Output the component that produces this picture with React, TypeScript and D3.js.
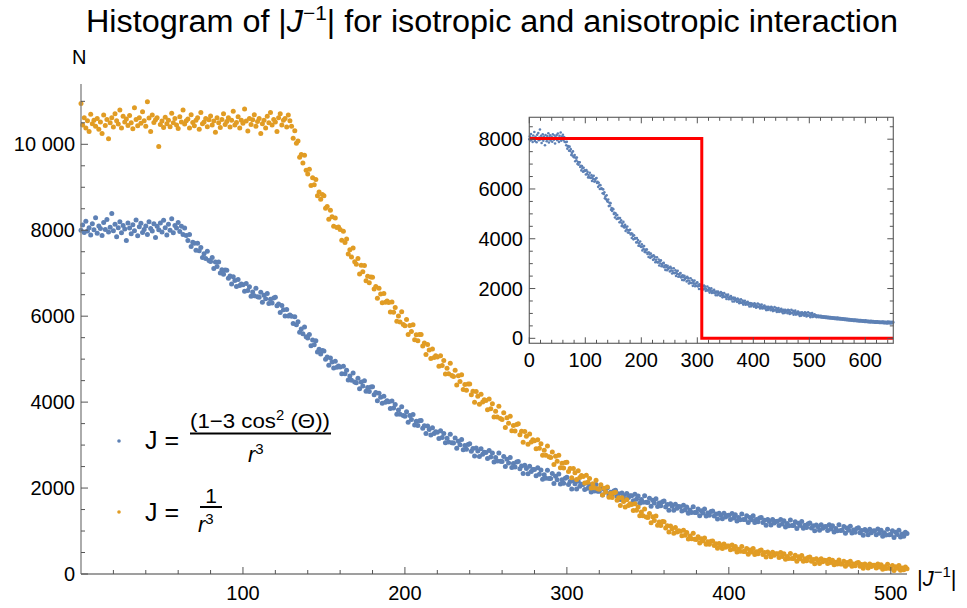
import React from "react";
import * as d3 from "d3";

// Histogram counts for |J^-1| = 0,1,2,...,510 (anisotropic, blue)
const blueY = [
  8000, 8120, 7950, 8210, 7980, 8060, 7890, 8150, 8010, 8290,
  7930, 8100, 8040, 7880, 8180, 8020, 8250, 7960, 8070, 8390,
  7990, 8140, 7850, 8060, 8200, 7940, 8110, 8030, 7760, 8170,
  8050, 7920, 8130, 7990, 8240, 7870, 8080, 8160, 7950, 8020,
  8100, 7900, 8200, 8040, 7980, 8150, 7830, 8090, 8010, 8170,
  7960, 8230, 8060, 7890, 8140, 8000, 8270, 7940, 8110, 8050,
  8180, 7970, 8090, 7900, 8050, 7880, 7760, 7900, 7620, 7720,
  7700, 7535, 7700, 7525, 7600, 7365, 7450, 7345, 7510, 7295,
  7270, 7366, 7112, 7258, 7154, 7260, 7006, 7082, 6978, 7074,
  7070, 6882, 6934, 6746, 6918, 6830, 6692, 6854, 6716, 6748,
  6730, 6579, 6758, 6597, 6686, 6465, 6564, 6473, 6652, 6451,
  6440, 6556, 6322, 6488, 6404, 6530, 6296, 6392, 6308, 6424,
  6440, 6242, 6284, 6086, 6248, 6150, 6002, 6154, 6006, 6028,
  6000, 5827, 5984, 5801, 5868, 5625, 5702, 5589, 5746, 5523,
  5490, 5576, 5312, 5448, 5334, 5430, 5166, 5232, 5118, 5204,
  5190, 4999, 5048, 4857, 5026, 4935, 4794, 4953, 4812, 4841,
  4820, 4661, 4832, 4663, 4744, 4515, 4606, 4507, 4678, 4469,
  4450, 4557, 4314, 4471, 4378, 4495, 4252, 4339, 4246, 4353,
  4360, 4171, 4222, 4033, 4204, 4115, 3976, 4137, 3998, 4029,
  4010, 3854, 4028, 3862, 3946, 3720, 3814, 3718, 3892, 3686,
  3670, 3776, 3532, 3688, 3594, 3710, 3466, 3552, 3458, 3564,
  3570, 3389, 3448, 3267, 3446, 3365, 3234, 3403, 3272, 3311,
  3300, 3153, 3336, 3179, 3272, 3055, 3158, 3071, 3254, 3057,
  3050, 3164, 2928, 3092, 3006, 3130, 2894, 2988, 2902, 3016,
  3030, 2856, 2922, 2748, 2934, 2860, 2736, 2912, 2788, 2834,
  2830, 2687, 2874, 2721, 2818, 2605, 2712, 2629, 2816, 2623,
  2620, 2736, 2502, 2668, 2584, 2710, 2476, 2572, 2488, 2604,
  2620, 2447, 2514, 2341, 2528, 2455, 2332, 2509, 2386, 2433,
  2430, 2287, 2474, 2321, 2418, 2205, 2312, 2229, 2416, 2223,
  2220, 2339, 2108, 2277, 2196, 2325, 2094, 2193, 2112, 2231,
  2250, 2080, 2150, 1980, 2170, 2100, 1980, 2160, 2040, 2090,
  2080, 1967, 2118, 1997, 2076, 1907, 1994, 1929, 2080, 1927,
  1926, 2021, 1836, 1971, 1906, 2009, 1824, 1903, 1838, 1933,
  1948, 1812, 1868, 1732, 1884, 1828, 1732, 1876, 1780, 1820,
  1820, 1707, 1858, 1737, 1816, 1647, 1734, 1669, 1820, 1667,
  1666, 1762, 1578, 1714, 1650, 1754, 1570, 1650, 1586, 1682,
  1698, 1562, 1618, 1482, 1634, 1578, 1482, 1626, 1530, 1570,
  1565, 1466, 1598, 1492, 1561, 1413, 1489, 1432, 1564, 1430,
  1429, 1514, 1354, 1474, 1419, 1511, 1351, 1422, 1367, 1452,
  1467, 1349, 1399, 1281, 1415, 1367, 1284, 1411, 1328, 1364,
  1365, 1270, 1406, 1304, 1377, 1233, 1313, 1260, 1396, 1266,
  1269, 1355, 1196, 1317, 1263, 1356, 1197, 1269, 1215, 1301,
  1317, 1200, 1251, 1134, 1269, 1222, 1140, 1268, 1186, 1223,
  1225, 1130, 1266, 1164, 1237, 1093, 1173, 1120, 1256, 1126,
  1129, 1216, 1058, 1180, 1127, 1221, 1063, 1136, 1083, 1170,
  1187, 1071, 1123, 1007, 1143, 1097, 1016, 1145, 1064, 1102,
  1105, 1011, 1148, 1047, 1121, 978, 1059, 1007, 1144, 1015,
  1019, 1106, 948, 1070, 1017, 1111, 953, 1026, 973, 1060,
  1077, 962, 1015, 900, 1037, 992, 912, 1042, 962, 1001,
  1005, 911, 1048, 947, 1021, 878, 959, 907, 1044, 915,
  919, 1007, 850, 973, 921, 1016, 859, 933, 881, 969,
  945,
];

// Histogram counts for |J^-1| = 0,1,2,...,510 (isotropic, orange)
const orangeY = [
  10950, 10450, 10620, 10380, 10550, 10300, 10700, 10480, 10560, 10420,
  10600, 10350, 10520, 10250, 10680, 10440, 10580, 10130, 10500, 10620,
  10400, 10710, 10550, 10470, 10800, 10380, 10650, 10520, 10590, 10440,
  10670, 10500, 10360, 10850, 10580, 10430, 10620, 10490, 10760, 10550,
  10420, 10990, 10610, 10300, 10680, 10510, 10570, 10620, 9950, 10460,
  10540, 10390, 10630, 10480, 10560, 10410, 10720, 10500, 10600, 10450,
  10370, 10640, 10520, 10800, 10470, 10550, 10590, 10380, 10690, 10510,
  10430, 10560, 10620, 10350, 10740, 10480, 10520, 10600, 10410, 10570,
  10660, 10450, 10540, 10280, 10620, 10500, 10390, 10580, 10710, 10460,
  10530, 10620, 10400, 10560, 10770, 10450, 10510, 10640, 10380, 10560,
  10490, 10820, 10540, 10310, 10600, 10460, 10570, 10690, 10420, 10530,
  10600, 10250, 10480, 10560, 10380, 10650, 10500, 10740, 10450, 10580,
  10520, 10300, 10620, 10710, 10450, 10560, 10600, 10400, 10680, 10550,
  10420, 10138, 10318, 10022, 10076, 9696, 9764, 9566, 9746, 9394,
  9308, 9420, 9042, 9224, 9056, 9182, 8804, 8888, 8720, 8832,
  8804, 8510, 8552, 8258, 8468, 8314, 8090, 8286, 8062, 8076,
  8020, 7768, 7978, 7712, 7796, 7446, 7544, 7376, 7586, 7264,
  7208, 7340, 6982, 7184, 7036, 7182, 6824, 6928, 6780, 6912,
  6904, 6630, 6692, 6418, 6648, 6514, 6310, 6526, 6322, 6356,
  6320, 6095, 6332, 6093, 6204, 5881, 6006, 5865, 6102, 5807,
  5778, 5920, 5572, 5784, 5646, 5802, 5454, 5568, 5430, 5572,
  5574, 5306, 5374, 5106, 5342, 5214, 5016, 5238, 5040, 5080,
  5050, 4834, 5080, 4850, 4970, 4656, 4790, 4658, 4904, 4618,
  4598, 4743, 4398, 4613, 4478, 4637, 4292, 4409, 4274, 4419,
  4424, 4170, 4252, 3998, 4248, 4134, 3950, 4186, 4002, 4056,
  4040, 3825, 4072, 3843, 3964, 3651, 3786, 3655, 3902, 3617,
  3598, 3750, 3412, 3634, 3506, 3672, 3334, 3458, 3330, 3482,
  3494, 3240, 3322, 3068, 3318, 3204, 3020, 3256, 3072, 3126,
  3100, 2915, 3126, 2929, 3032, 2763, 2878, 2765, 2976, 2731,
  2714, 2842, 2550, 2738, 2626, 2766, 2474, 2578, 2466, 2594,
  2602, 2385, 2456, 2239, 2454, 2357, 2200, 2403, 2246, 2293,
  2270, 2118, 2296, 2134, 2222, 2000, 2098, 2006, 2184, 1982,
  1970, 2079, 1838, 1997, 1906, 2025, 1784, 1873, 1782, 1891,
  1900, 1718, 1776, 1594, 1772, 1690, 1558, 1726, 1594, 1632,
  1615, 1475, 1632, 1483, 1559, 1356, 1441, 1355, 1512, 1327,
  1313, 1409, 1190, 1331, 1247, 1352, 1133, 1211, 1127, 1223,
  1218, 1073, 1120, 975, 1118, 1053, 948, 1083, 978, 1009,
  995, 890, 1016, 904, 967, 813, 883, 820, 946, 806,
  802, 868, 724, 820, 766, 838, 694, 748, 694, 760,
  766, 662, 702, 598, 710, 666, 592, 698, 624, 652,
  650, 564, 676, 584, 642, 514, 578, 528, 640, 524,
  522, 595, 458, 561, 514, 593, 456, 517, 470, 543,
  556, 455, 498, 397, 512, 471, 400, 509, 438, 469,
  470, 386, 500, 410, 470, 344, 410, 362, 476, 362,
  362, 435, 298, 401, 354, 433, 296, 357, 310, 383,
  396, 296, 340, 240, 356, 316, 246, 356, 286, 318,
  315, 246, 342, 268, 319, 215, 271, 232, 328, 234,
  235, 296, 182, 268, 229, 295, 181, 232, 193, 254,
  265, 182, 219, 136, 233, 200, 142, 234, 176, 203,
  205, 137, 234, 161, 213, 110, 167, 129, 226, 133,
  135, 197, 84, 171, 133, 200, 87, 139, 101, 163,
  120,
];

// Continuation of the blue histogram shown in the inset (|J^-1| = 511..650)
const blueTailY = [
  880, 925, 850, 905, 870, 910, 845, 895, 855, 900,
  840, 890, 835, 885, 830, 880, 825, 875, 820, 870,
  815, 865, 810, 860, 805, 855, 800, 850, 795, 845,
  790, 840, 785, 835, 780, 830, 775, 825, 770, 830,
  770, 820, 765, 815, 760, 810, 755, 805, 750, 800,
  745, 795, 740, 790, 735, 785, 730, 780, 725, 775,
  720, 770, 715, 765, 710, 760, 705, 755, 700, 755,
  700, 750, 695, 745, 690, 740, 685, 735, 680, 735,
  680, 730, 675, 725, 670, 720, 665, 715, 660, 720,
  660, 710, 655, 705, 650, 700, 645, 695, 640, 700,
  645, 695, 640, 690, 635, 685, 630, 680, 630, 685,
  630, 680, 625, 675, 620, 670, 615, 665, 615, 675,
  615, 670, 610, 665, 605, 660, 605, 655, 600, 670,
  610, 665, 605, 660, 600, 655, 605, 660, 610, 650,
];

const mainXTicks = [100, 200, 300, 400, 500];
const mainYTicks = [0, 2000, 4000, 6000, 8000, 10000];
const mainYTickLabels = ["0", "2000", "4000", "6000", "8000", "10 000"];
const insetXTicks = [0, 100, 200, 300, 400, 500, 600];
const insetYTicks = [0, 2000, 4000, 6000, 8000];
const stepX = [0, 308, 308, 650];
const stepY = [8030, 8030, 0, 0];

const BLUE = "#5E81B5";
const ORANGE = "#E19C24";
const FONT = "'Liberation Sans', Arial, sans-serif";

export default function App() {
  const W = 967;
  const H = 608;

  const x = d3.scaleLinear().domain([0, 510]).range([81, 907]);
  const y = d3.scaleLinear().domain([0, 11400]).range([574, 574 - 11400 * 0.04297]);

  const ix = d3.scaleLinear().domain([0, 650]).range([529.3, 893.3]);
  const iy = d3.scaleLinear().domain([-200, 8880]).range([343.3, 117.3]);

  const xMinor = d3.range(20, 511, 20).filter((v) => v % 100 !== 0);
  const yMinor = d3.range(500, 11001, 500).filter((v) => v % 2000 !== 0);
  const ixMinor = d3.range(20, 650, 20).filter((v) => v % 100 !== 0);
  const iyMinor = d3.range(500, 8800, 500).filter((v) => v % 2000 !== 0);

  const insetBlue = blueY.concat(blueTailY);

  const stepLine = d3
    .line<number>()
    .x((_, i) => ix(stepX[i]))
    .y((d) => iy(d));

  const axisColor = "#7f7f7f";
  const tickColor = "#555";

  const [fx0, fx1] = ix.range();
  const [fy0, fy1] = iy.range();

  return (
    <svg
      width={W}
      height={H}
      viewBox={`0 0 ${W} ${H}`}
      style={{ position: "absolute", left: 0, top: 0, background: "#fff" }}
      fontFamily={FONT}
    >
      <rect x={0} y={0} width={W} height={H} fill="#fff" />

      {/* Title */}
      <text x={86} y={32} fontSize={31} fill="#000" textLength={812} lengthAdjust="spacingAndGlyphs">
        Histogram of |<tspan fontStyle="italic">J</tspan>
        <tspan dy={-12} fontSize={20}>{"\u22121"}</tspan>
        <tspan dy={12}>| for isotropic and anisotropic interaction</tspan>
      </text>

      {/* Main data */}
      <g>
        {blueY.map((v, i) => (
          <circle key={"b" + i} cx={x(i)} cy={y(v)} r={2.5} fill={BLUE} />
        ))}
        {orangeY.map((v, i) => (
          <circle key={"o" + i} cx={x(i)} cy={y(v)} r={2.5} fill={ORANGE} />
        ))}
      </g>

      {/* Main axes */}
      <g>
        <line x1={x(0)} x2={x(510)} y1={y(0)} y2={y(0)} stroke={axisColor} strokeWidth={1.3} />
        <line x1={x(0)} x2={x(0)} y1={y(0)} y2={84} stroke={axisColor} strokeWidth={1.3} />
        {mainXTicks.map((t) => (
          <g key={"mx" + t}>
            <line x1={x(t)} x2={x(t)} y1={y(0)} y2={y(0) - 7} stroke={tickColor} strokeWidth={1} />
            <text x={x(t)} y={600} fontSize={20} textAnchor="middle" fill="#000">
              {t}
            </text>
          </g>
        ))}
        {xMinor.map((t) => (
          <line key={"mxm" + t} x1={x(t)} x2={x(t)} y1={y(0)} y2={y(0) - 4} stroke={tickColor} strokeWidth={1} />
        ))}
        {mainYTicks.map((t, i) => (
          <g key={"my" + t}>
            <line x1={x(0)} x2={x(0) + 7} y1={y(t)} y2={y(t)} stroke={tickColor} strokeWidth={1} />
            <text x={75} y={y(t) + 7} fontSize={20} textAnchor="end" fill="#000">
              {mainYTickLabels[i]}
            </text>
          </g>
        ))}
        {yMinor.map((t) => (
          <line key={"mym" + t} x1={x(0)} x2={x(0) + 4} y1={y(t)} y2={y(t)} stroke={tickColor} strokeWidth={1} />
        ))}
        <text x={72} y={64} fontSize={20} fill="#000">
          N
        </text>
        <text x={917} y={586} fontSize={22} fill="#000">
          |<tspan fontStyle="italic">J</tspan>
          <tspan dy={-9} fontSize={15}>{"\u22121"}</tspan>
          <tspan dy={9}>|</tspan>
        </text>
      </g>

      {/* Legend */}
      <g fill="#000">
        <circle cx={119} cy={441} r={1.8} fill={BLUE} />
        <text x={145} y={449} fontSize={25}>J =</text>
        <text x={190} y={428} fontSize={21} textLength={140} lengthAdjust="spacingAndGlyphs">
          (1{"\u2212"}3 cos<tspan dy={-8} fontSize={14}>2</tspan>
          <tspan dy={8}> ({"\u0398"}))</tspan>
        </text>
        <line x1={190} x2={331} y1={433.5} y2={433.5} stroke="#000" strokeWidth={2} />
        <text x={248} y={462} fontSize={22}>
          <tspan fontStyle="italic">r</tspan>
          <tspan dy={-8} fontSize={15}>3</tspan>
        </text>

        <circle cx={119} cy={512} r={1.8} fill={ORANGE} />
        <text x={145} y={521} fontSize={25}>J =</text>
        <text x={211} y={503} fontSize={21} textAnchor="middle">1</text>
        <line x1={200} x2={222} y1={507} y2={507} stroke="#000" strokeWidth={2} />
        <text x={198} y={532} fontSize={22}>
          <tspan fontStyle="italic">r</tspan>
          <tspan dy={-8} fontSize={15}>3</tspan>
        </text>
      </g>

      {/* Inset */}
      <g>
        <rect x={fx0} y={fy1} width={fx1 - fx0} height={fy0 - fy1} fill="#fff" />
        {insetBlue.map((v, i) => (
          <circle key={"ib" + i} cx={ix(i)} cy={iy(v)} r={1.3} fill={BLUE} />
        ))}
        <path d={stepLine(stepY) || ""} fill="none" stroke="#ff0000" strokeWidth={3} />
        <rect x={fx0} y={fy1} width={fx1 - fx0} height={fy0 - fy1} fill="none" stroke="#666" strokeWidth={1.2} />
        {insetXTicks.map((t) => (
          <g key={"ix" + t}>
            <line x1={ix(t)} x2={ix(t)} y1={fy0} y2={fy0 - 6} stroke={tickColor} />
            <line x1={ix(t)} x2={ix(t)} y1={fy1} y2={fy1 + 6} stroke={tickColor} />
            <text x={ix(t)} y={367} fontSize={20} textAnchor="middle" fill="#000">
              {t}
            </text>
          </g>
        ))}
        {ixMinor.map((t) => (
          <g key={"ixm" + t}>
            <line x1={ix(t)} x2={ix(t)} y1={fy0} y2={fy0 - 3.5} stroke={tickColor} />
            <line x1={ix(t)} x2={ix(t)} y1={fy1} y2={fy1 + 3.5} stroke={tickColor} />
          </g>
        ))}
        {insetYTicks.map((t) => (
          <g key={"iy" + t}>
            <line x1={fx0} x2={fx0 + 6} y1={iy(t)} y2={iy(t)} stroke={tickColor} />
            <line x1={fx1} x2={fx1 - 6} y1={iy(t)} y2={iy(t)} stroke={tickColor} />
            <text x={523} y={iy(t) + 7} fontSize={20} textAnchor="end" fill="#000">
              {t}
            </text>
          </g>
        ))}
        {iyMinor.map((t) => (
          <g key={"iym" + t}>
            <line x1={fx0} x2={fx0 + 3.5} y1={iy(t)} y2={iy(t)} stroke={tickColor} />
            <line x1={fx1} x2={fx1 - 3.5} y1={iy(t)} y2={iy(t)} stroke={tickColor} />
          </g>
        ))}
      </g>
    </svg>
  );
}
